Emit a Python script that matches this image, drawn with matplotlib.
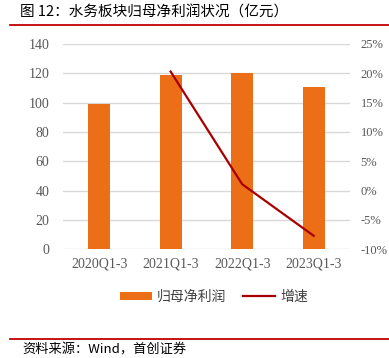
import matplotlib
matplotlib.use("Agg")
import matplotlib.pyplot as plt
import matplotlib.ticker as ticker
from matplotlib.lines import Line2D

# data
periods = ["2020Q1-3", "2021Q1-3", "2022Q1-3", "2023Q1-3"]
profit = [99.1, 118.9, 120.4, 110.9]          # 亿元
growth = [None, 20.3, 1.1, -7.7]              # %

bar_color = "#EC6E16"
line_color = "#A80000"
red_rule = "#C00000"
grid_color = "#D9D9D9"
tick_color = "#595959"

cjk = ["Noto Sans CJK SC", "DejaVu Sans"]
serif = ["Liberation Serif", "DejaVu Serif"]

fig = plt.figure(figsize=(3.89, 3.58), dpi=100)

# title and top rule
fig.text(20 / 389, 1 - 13 / 358, "图 12：水务板块归母净利润状况（亿元）",
         family=cjk, fontsize=10.5, weight="medium", va="center", ha="left")
fig.add_artist(Line2D([10 / 389, 1], [1 - 25 / 358] * 2, color=red_rule, lw=1.3))

ax = fig.add_axes([63.3 / 389, 108.7 / 358, 286.2 / 389, 205.3 / 358])
x = list(range(len(periods)))
bars = ax.bar(x, profit, width=0.31, color=bar_color, zorder=3, label="归母净利润")
ax.set_xlim(-0.5, len(periods) - 0.5)
ax.set_ylim(0, 140)
ax.yaxis.set_major_locator(ticker.MultipleLocator(20))
ax.set_xticks(x)
ax.set_xticklabels(periods, family=serif, fontsize=10, color=tick_color)
for lab in ax.get_yticklabels():
    lab.set_family(serif)
ax.tick_params(axis="y", labelsize=10, labelcolor=tick_color, length=0, pad=10)
ax.tick_params(axis="x", length=0, pad=6)
ax.grid(axis="y", color=grid_color, lw=1, zorder=0)
for s in ax.spines.values():
    s.set_visible(False)

ax2 = ax.twinx()
gx = [i for i, g in zip(x, growth) if g is not None]
gy = [g for g in growth if g is not None]
line, = ax2.plot(gx, gy, color=line_color, lw=1.6, zorder=4, label="增速")
ax2.set_ylim(-10, 25)
ax2.yaxis.set_major_locator(ticker.MultipleLocator(5))
ax2.yaxis.set_major_formatter(ticker.FuncFormatter(lambda v, p: f"{v:.0f}%"))
for lab in ax2.get_yticklabels():
    lab.set_family(serif)
ax2.tick_params(axis="y", labelsize=9, labelcolor=tick_color, length=0, pad=8)
for s in ax2.spines.values():
    s.set_visible(False)

fig.legend(handles=[bars, line], labels=["归母净利润", "增速"],
           loc="center", bbox_to_anchor=(214 / 389, 1 - 297 / 358),
           ncol=2, frameon=False, prop={"family": cjk, "size": 10},
           labelcolor="#404040", handlelength=2.3, handleheight=0.55,
           columnspacing=1.2, handletextpad=0.4)

# bottom rule and source
fig.add_artist(Line2D([10 / 389, 1], [1 - 338.5 / 358] * 2, color=red_rule, lw=1.3))
fig.text(22 / 389, 1 - 350 / 358, "资料来源：Wind，首创证券",
         family=cjk, style="italic", fontsize=9.5, va="center", ha="left")

fig.savefig("out.png", dpi=100)
